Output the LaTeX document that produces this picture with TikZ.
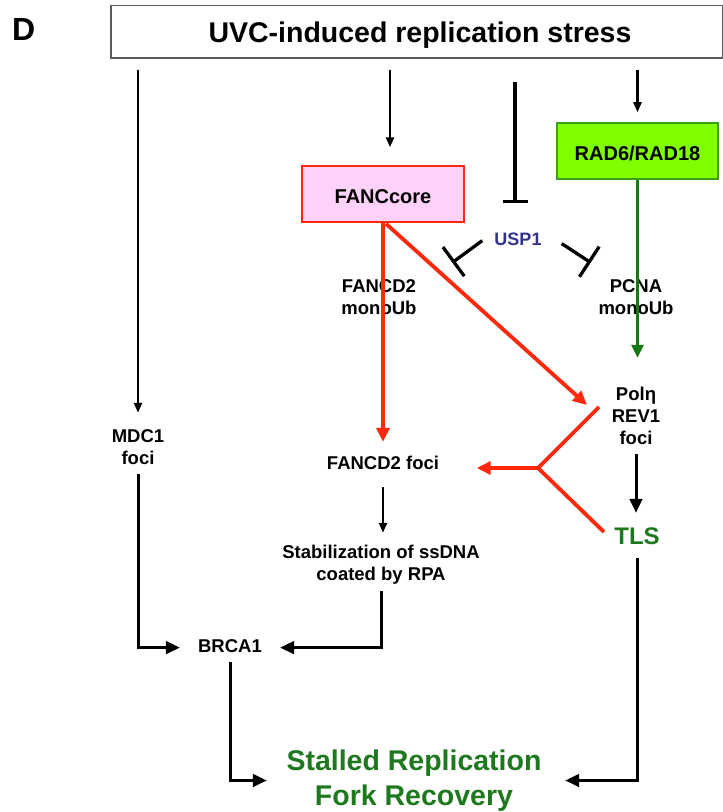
\documentclass[tikz,border=0pt]{standalone}
\usepackage{fontspec}
\setmainfont{Liberation Sans}
\usetikzlibrary{arrows.meta,calc}
\definecolor{fred}{RGB}{255,40,10}
\definecolor{dgreen}{RGB}{20,120,20}
\definecolor{tgreen}{RGB}{30,120,30}
\definecolor{lgreen}{RGB}{128,255,0}
\definecolor{bgreen}{RGB}{60,160,20}
\definecolor{pinkf}{RGB}{255,210,250}
\definecolor{uspblue}{RGB}{50,50,140}
\definecolor{boxgray}{RGB}{90,90,90}
\newcommand{\mylbl}[1]{\begin{tabular}[t]{@{}c@{}}#1\end{tabular}}
\begin{document}
\begin{tikzpicture}[x=1bp,y=-1bp,
  lab/.style={inner sep=0pt, anchor=base, font=\bfseries\fontsize{18.5bp}{22bp}\selectfont},
  boxnode/.style={line width=1.5bp, inner sep=0pt, text height=18bp, text depth=0bp,
    minimum height=56bp, font=\bfseries\fontsize{20bp}{24bp}\selectfont},
  thinarr/.style={line width=2.3bp, -{Triangle[width=8bp,length=10bp]}},
  elb/.style={line width=3bp, -{Triangle[width=12.5bp,length=14bp]}},
  redarr/.style={line width=3.8bp, fred, -{Triangle[width=13bp,length=14bp]}},
  redln/.style={line width=3.8bp, fred},
  grnarr/.style={line width=3bp, dgreen, -{Triangle[width=12bp,length=13bp]}},
  inh/.style={line width=3.3bp, -{Bar[width=#1]}},
]
\useasboundingbox (0,0) rectangle (723,812);

% nodes
\node[anchor=base west, inner sep=0pt, font=\bfseries\fontsize{32bp}{36bp}\selectfont] (D) at (12,41) {D};
\node[draw=boxgray, line width=1.5bp, anchor=north west, minimum width=612bp, minimum height=52bp, inner sep=0pt] (top) at (110,5) {};
\node[anchor=base, inner sep=0pt, font=\bfseries\fontsize{28.5bp}{34bp}\selectfont] (title) at (420,43) {UVC-induced replication stress};
\node[boxnode, draw=fred, fill=pinkf, minimum width=162bp] (fanc) at (383,194) {FANCcore};
\node[boxnode, draw=bgreen, fill=lgreen, minimum width=161bp] (rad) at (637.5,151) {RAD6/RAD18};
\node[lab, text=uspblue, font=\bfseries\fontsize{18bp}{22bp}\selectfont] (usp) at (518,245) {\mylbl{USP1}};
\node[lab] (fancub) at (379,292) {\mylbl{FANCD2\\monoUb}};
\node[lab] (pcnaub) at (636,292) {\mylbl{PCNA\\monoUb}};
\node[lab] (mdc) at (138,442) {\mylbl{MDC1\\foci}};
\node[lab] (ffoci) at (383,469) {\mylbl{FANCD2 foci}};
\node[lab] (stab) at (381,558) {\mylbl{Stabilization of ssDNA\\coated by RPA}};
\node[lab] (brca) at (230,652) {\mylbl{BRCA1}};
\node[lab] (pol) at (636,400) {\mylbl{Polη\\REV1\\foci}};
\node[lab, text=tgreen, font=\bfseries\fontsize{24bp}{29bp}\selectfont] (tls) at (637,544) {\mylbl{TLS}};
\node[lab, text=tgreen, font=\bfseries\fontsize{28.5bp}{35bp}\selectfont] (rec) at (414,770) {\mylbl{Stalled Replication\\Fork Recovery}};

% connectors from the top box
\draw[thinarr, shorten <=11bp, shorten >=13.6bp] (top.south -| mdc.north) -- (mdc.north);
\draw[thinarr, shorten <=11bp, shorten >=18bp] ($(top.south -| fanc.north)+(7,0)$) -- ($(fanc.north)+(7,0)$);
\draw[inh=25bp, shorten <=23bp, shorten >=26.6bp] ($(top.south -| usp.north)+(-3,0)$) -- ($(usp.north)+(-3,0)$);
\draw[thinarr, shorten <=11bp, shorten >=10bp] (top.south -| rad.north) -- (rad.north);

% RAD6/RAD18 to Pol eta
\draw[grnarr, shorten >=26.6bp] (rad.south) -- (rad.south |- pol.north);

% USP1 inhibitions
\draw[inh=36bp] ($(usp.west)+(-12,0)$) -- ($(usp.west)+(-42,22)$);
\draw[inh=36bp] ($(usp.east)+(20,3)$) -- ($(usp.east)+(49,22)$);

% red FANC arrows
\draw[redarr, shorten >=11.6bp] (fanc.south) -- (fanc.south |- ffoci.north);
\draw[redarr] ($(fanc.south)+(3,1)$) -- ($(pol.base)+(-49,5)$);
\coordinate (J) at (538,468);
\draw[redln] ($(pol.base)+(-37,7)$) -- (J) -- ($(tls.base)+(-33,-12)$);
\draw[redarr, shorten >=37.5bp] (J) -- (J -| ffoci.east);

% black arrows
\draw[elb, shorten <=3.4bp, shorten >=10.7bp] (pol.south) -- (pol.south |- tls.north);
\draw[thinarr, shorten <=11.4bp, shorten >=9.6bp] (ffoci.south) -- (ffoci.south |- stab.north);
\draw[elb, shorten <=4.4bp, shorten >=18bp] (stab.south) |- (brca.east);
\draw[elb, shorten <=3.4bp, shorten >=18bp] (mdc.south) |- (brca.west);
\draw[elb, shorten <=3.4bp, shorten >=19.5bp] (brca.south) |- (rec.west);
\draw[elb, shorten <=5.3bp, shorten >=23.5bp] (tls.south) |- (rec.east);
\end{tikzpicture}
\end{document}
